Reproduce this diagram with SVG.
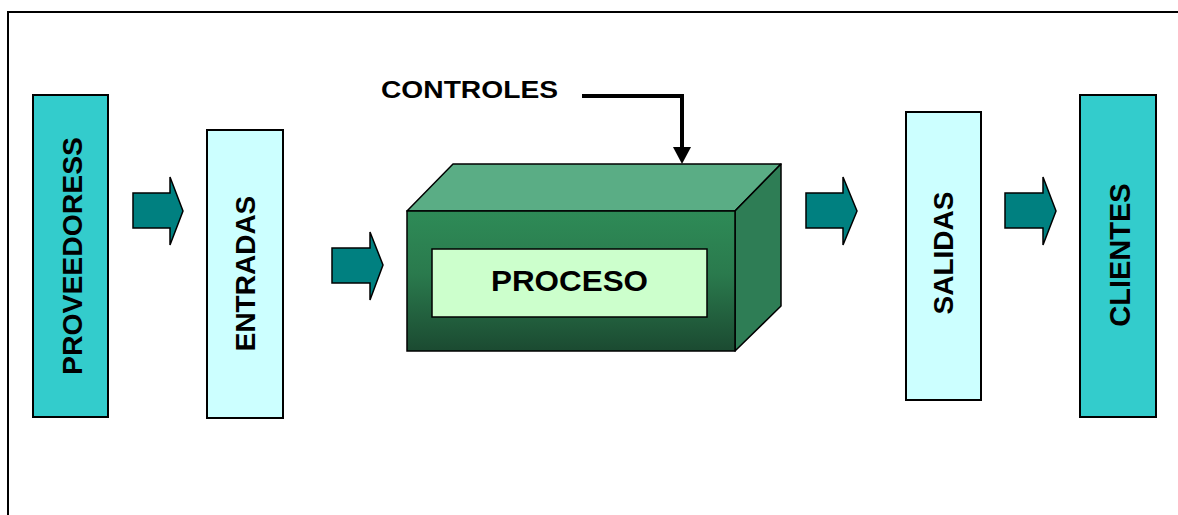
<svg xmlns="http://www.w3.org/2000/svg" width="1178" height="515" viewBox="0 0 1178 515">
<defs>
<style>
.t{font-family:"Liberation Sans",Arial,sans-serif;font-weight:bold;fill:#000}
.box{stroke:#000;stroke-width:2}
.arr{fill:#008080;stroke:#000;stroke-width:1.5;stroke-linejoin:miter}
</style>
<linearGradient id="front" x1="0" y1="0" x2="0" y2="1">
<stop offset="0" stop-color="#2e8b57"/>
<stop offset="0.45" stop-color="#2a7a4d"/>
<stop offset="1" stop-color="#1b4a31"/>
</linearGradient>
</defs>
<rect x="8" y="12" width="1200" height="540" fill="#fff" stroke="#000" stroke-width="2"/>
<g id="proveedoress">
<rect class="box" x="33" y="95" width="75" height="322" fill="#33cccc"/>
<text class="t" font-size="28" transform="translate(82,256) rotate(-90)" text-anchor="middle" textLength="238" lengthAdjust="spacingAndGlyphs">PROVEEDORESS</text>
</g>
<g id="entradas">
<rect class="box" x="207" y="130" width="76" height="288" fill="#ccffff"/>
<text class="t" font-size="28" transform="translate(255,273.5) rotate(-90)" text-anchor="middle">ENTRADAS</text>
</g>
<g id="proceso">
<polygon points="407,211 453,164 781,164 735,211" fill="#5aad85" stroke="#000" stroke-width="1.5" stroke-linejoin="round"/>
<polygon points="735,211 781,164 781,306 735,351" fill="#2e7d55" stroke="#000" stroke-width="1.5" stroke-linejoin="round"/>
<rect x="407" y="211" width="328" height="140" fill="url(#front)" stroke="#000" stroke-width="1.5"/>
<rect x="432" y="249" width="275" height="68" fill="#ccffcc" stroke="#000" stroke-width="1.5"/>
<text class="t" font-size="30" x="569.5" y="291" text-anchor="middle" textLength="157" lengthAdjust="spacingAndGlyphs">PROCESO</text>
</g>
<g id="controles">
<text class="t" font-size="23" x="381" y="98" textLength="177" lengthAdjust="spacingAndGlyphs">CONTROLES</text>
</g>
<g id="salidas">
<rect class="box" x="906" y="112" width="75" height="288" fill="#ccffff"/>
<text class="t" font-size="28" transform="translate(953,253) rotate(-90)" text-anchor="middle">SALIDAS</text>
</g>
<g id="clientes">
<rect class="box" x="1080" y="95" width="76" height="322" fill="#33cccc"/>
<text class="t" font-size="29" transform="translate(1130,255) rotate(-90)" text-anchor="middle">CLIENTES</text>
</g>
<g id="connectors">
<polygon class="arr" points="133,193 170,193 170,177 183,211 170,245 170,228 133,228"/>
<polygon class="arr" points="332,248 370,248 370,232 383,265 370,300 370,283 332,283"/>
<polygon class="arr" points="806,193 843,193 843,177 857,211 843,245 843,228 806,228"/>
<polygon class="arr" points="1005,193 1043,193 1043,177 1056,211 1043,245 1043,228 1005,228"/>
<polyline points="582,96 682,96 682,148" fill="none" stroke="#000" stroke-width="4"/>
<polygon points="673,147 691,147 682,164" fill="#000"/>
</g>
</svg>
